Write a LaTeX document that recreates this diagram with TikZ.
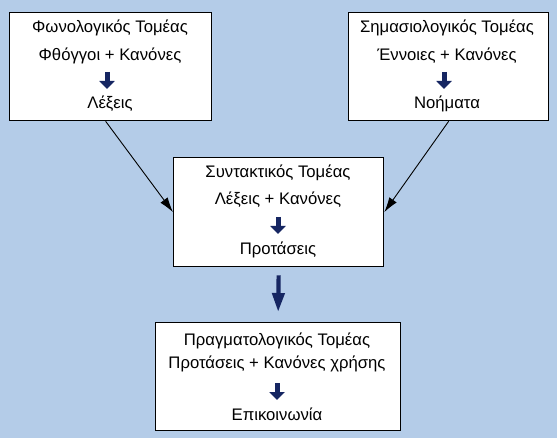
\documentclass[tikz,border=0pt]{standalone}
\usepackage{fontspec}
\setmainfont{Liberation Sans}
\usetikzlibrary{arrows.meta}
\definecolor{bg}{RGB}{180,204,232}
\definecolor{navy}{RGB}{22,38,98}
\begin{document}
\begin{tikzpicture}[x=1pt,y=-1pt,
  box/.style={draw=black,line width=1.3pt,fill=white,inner sep=0pt,anchor=north west},
  txt/.style={font=\fontsize{16.7}{19}\selectfont,anchor=base,inner sep=0pt},
  smallarrow/.style={draw=navy,line width=5pt,-{Triangle[width=15pt,length=8pt]}},
  bigarrow/.style={draw=navy,line width=4.2pt,-{Triangle[width=12pt,length=19pt]}},
  thinarrow/.style={draw=black,line width=0.9pt,-{Latex[length=15pt,width=9pt]}}]
\fill[bg] (0,0) rectangle (557,438);
\useasboundingbox (0,0) rectangle (557,438);

% boxes
\node[box,minimum width=202pt,minimum height=108pt] (fon) at (9,12) {};
\node[box,minimum width=200pt,minimum height=108pt] (sem) at (348,12) {};
\node[box,minimum width=210pt,minimum height=109pt] (syn) at (173,157) {};
\node[box,minimum width=245pt,minimum height=108pt] (prag) at (155,322) {};

% box 1
\node[txt] (f1) at (110,33) {Φωνολογικός Τομέας};
\node[txt] (f2) at (110,61) {Φθόγγοι + Κανόνες};
\node[txt] (f3) at (110,109) {Λέξεις};
\coordinate (fa) at (107,72);
\coordinate (fb) at (107,89);
\draw[smallarrow] (fa) -- (fb);

% box 2
\node[txt] (s1) at (447,33) {Σημασιολογικός Τομέας};
\node[txt] (s2) at (447,61) {Έννοιες + Κανόνες};
\node[txt] (s3) at (447,109) {Νοήματα};
\coordinate (sa) at (444,72);
\coordinate (sb) at (444,89);
\draw[smallarrow] (sa) -- (sb);

% box 3
\node[txt] (y1) at (278,178) {Συντακτικός Τομέας};
\node[txt] (y2) at (278,205) {Λέξεις + Κανόνες};
\node[txt] (y3) at (278,255) {Προτάσεις};
\coordinate (ya) at (278,217);
\coordinate (yb) at (278,234);
\draw[smallarrow] (ya) -- (yb);

% box 4
\node[txt] (p1) at (277,345) {Πραγματολογικός Τομέας};
\node[txt] (p2) at (277,368) {Προτάσεις + Κανόνες χρήσης};
\node[txt] (p3) at (277,420) {Επικοινωνία};
\coordinate (pa) at (277,383);
\coordinate (pb) at (277,400);
\draw[smallarrow] (pa) -- (pb);

% connectors
\draw[thinarrow] ([xshift=-5pt]fon.south) -- (syn.west);
\draw[thinarrow] (sem.south) -- (syn.east);
\draw[bigarrow] ([yshift=-8pt]syn.south) -- ([yshift=10pt]prag.north);
\end{tikzpicture}
\end{document}
